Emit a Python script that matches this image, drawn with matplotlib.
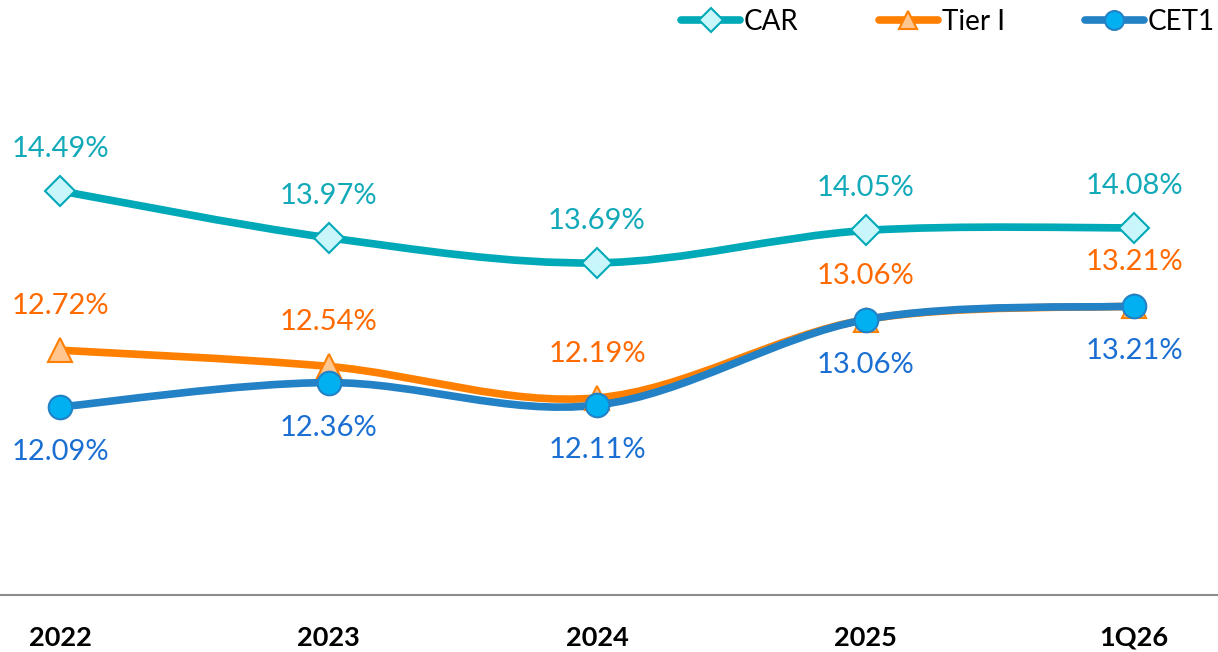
import numpy as np
import matplotlib.pyplot as plt
from matplotlib.path import Path
from matplotlib.patches import PathPatch
from matplotlib.lines import Line2D

# Data
periods = ["2022", "2023", "2024", "2025", "1Q26"]
car = [14.49, 13.97, 13.69, 14.05, 14.08]
tier1 = [12.72, 12.54, 12.19, 13.06, 13.21]
cet1 = [12.09, 12.36, 12.11, 13.06, 13.21]

FONT = "Lato"


def smooth_path(xs, ys):
    # Excel-style smoothed line as cubic Bezier segments
    p = np.column_stack([xs, ys]).astype(float)
    n = len(p)
    verts = [p[0]]
    codes = [Path.MOVETO]
    for i in range(n - 1):
        prev = p[i - 1] if i > 0 else p[i]
        nxt = p[i + 2] if i + 2 < n else p[i + 1]
        c1 = p[i] + (p[i + 1] - prev) / 6
        c2 = p[i + 1] - (nxt - p[i]) / 6
        verts += [c1, c2, p[i + 1]]
        codes += [Path.CURVE4] * 3
    return Path(verts, codes)


series = [
    # name, values, line colour, marker, face, edge, label colour, offset (px), size
    ("CAR", car, "#00A9B7", "D", "#C8F6FB", "#00A9B7", "#12A9B9", 42, 15),
    ("Tier I", tier1, "#FF8000", "^", "#FFC690", "#FF8000", "#FF6A00", 44, 17),
    ("CET1", cet1, "#2381C6", "o", "#00B0F0", "#2381C6", "#1B6FD2", -45, 17),
]

fig = plt.figure(figsize=(12.18, 6.52), dpi=100)
ax = fig.add_axes([0, 57 / 652, 1, 595 / 652])
x = np.arange(len(periods))

handles = []
for name, vals, lc, mk, fc, ec, tc, off, ms in series:
    ax.add_patch(PathPatch(smooth_path(x, vals), facecolor="none",
                           edgecolor=lc, lw=5.5, capstyle="round", zorder=2))
    ax.plot(x, vals, linestyle="none", marker=mk, markersize=ms,
            markerfacecolor=fc, markeredgecolor=ec, markeredgewidth=1.5,
            zorder=3)
    for xi, v in zip(x, vals):
        ax.annotate(f"{v:.2f}%", (xi, v), xytext=(0, off),
                    textcoords="offset pixels", ha="center", va="center",
                    color=tc, fontsize=21, family=FONT, zorder=4)
    handles.append(Line2D([], [], color=lc, lw=5.5, solid_capstyle="round",
                          marker=mk, markersize=ms * 0.8, markerfacecolor=fc,
                          markeredgecolor=ec, markeredgewidth=1.5, label=name))

ax.set_xlim(-60 / 268.5, 4 + 84 / 268.5)
ax.set_ylim(10, 10 + 595 / 90)
for s in ["top", "left", "right"]:
    ax.spines[s].set_visible(False)
ax.spines["bottom"].set_color("#8C8C8C")
ax.spines["bottom"].set_linewidth(1.5)
ax.set_yticks([])
ax.set_xticks(x)
ax.set_xticklabels(periods, fontsize=19.5, fontweight="bold", family=FONT)
ax.tick_params(axis="x", length=0, pad=22)

fig.legend(handles=handles, loc="upper right", bbox_to_anchor=(1.018, 1.025),
           ncol=3, frameon=False, handlelength=2.1, columnspacing=2.9,
           handletextpad=0.15, prop={"family": FONT, "size": 20})

fig.savefig("out.png", dpi=100)
